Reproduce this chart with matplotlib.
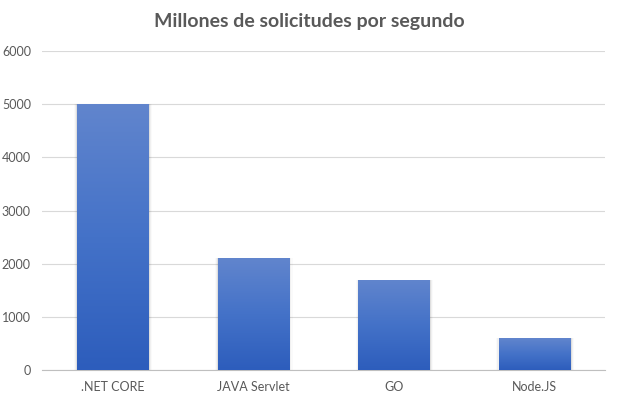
import numpy as np
import matplotlib.pyplot as plt
from matplotlib.colors import LinearSegmentedColormap

categories = ['.NET CORE', 'JAVA Servlet', 'GO', 'Node.JS']
values = [5000, 2100, 1700, 600]
yticks = [0, 1000, 2000, 3000, 4000, 5000, 6000]

fig = plt.figure(figsize=(6.18, 3.97), dpi=100)
ax = fig.add_axes([42 / 618, 27 / 397, 563 / 618, 319 / 397])

x = np.arange(len(categories))
width = 0.505

# soft shadow around bars
for xi, v in zip(x, values):
    for k, a in enumerate([0.07, 0.04, 0.02]):
        pad = 0.008 * (k + 1)
        ax.bar(xi + 0.004, v + 12 * (k + 1), width=width + 2 * pad, bottom=-12 * (k + 1),
               color='black', alpha=a, zorder=2, linewidth=0)

bars = ax.bar(x, values, width=width, color='none', zorder=3, linewidth=0)

cmap = LinearSegmentedColormap.from_list('blu', ['#2D5DBC', '#4472C8', '#6185CD'])
grad = np.linspace(0, 1, 256).reshape(-1, 1)
for b in bars:
    x0, y0 = b.get_x(), b.get_y()
    w, h = b.get_width(), b.get_height()
    im = ax.imshow(grad, cmap=cmap, origin='lower', aspect='auto',
                   extent=[x0, x0 + w, y0, y0 + h], zorder=3)
    im.set_clip_path(b)

ax.set_xlim(-0.5, len(categories) - 0.5)
ax.set_ylim(0, 6000)
ax.set_yticks(yticks)
ax.set_xticks(x)
ax.set_xticklabels(categories)

ax.grid(axis='y', color='#D9D9D9', linewidth=0.8, zorder=0)
ax.set_axisbelow(True)
for s in ['top', 'right', 'left']:
    ax.spines[s].set_visible(False)
ax.spines['bottom'].set_color('#BFBFBF')
ax.spines['bottom'].set_linewidth(0.8)
ax.tick_params(length=0, labelsize=9, colors='#595959', pad=8)
for lab in ax.get_xticklabels() + ax.get_yticklabels():
    lab.set_family('Lato')

fig.text(0.5, 1 - 22 / 397, 'Millones de solicitudes por segundo', ha='center', va='center',
         fontsize=14, fontweight='bold', color='#595959', family='Lato')

fig.savefig('out.png', dpi=100)
